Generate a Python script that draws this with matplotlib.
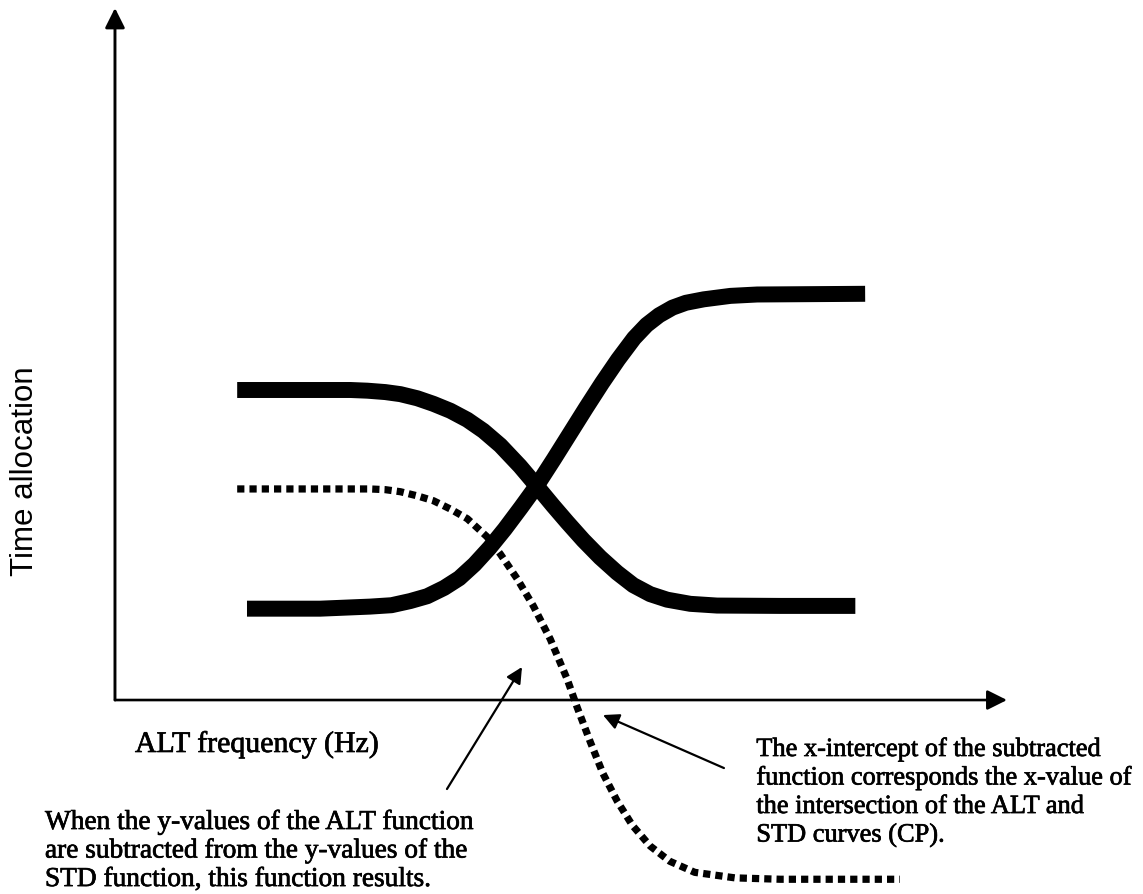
import matplotlib
matplotlib.use("Agg")
import matplotlib.pyplot as plt
import matplotlib.patheffects as pe

# ---- data (arbitrary units, origin at axes corner) ----
std_x = [13.7, 20.7, 26.4, 28.3, 30.3, 32.0, 33.9, 35.7, 37.6, 39.5, 41.3, 43.2,
         45.4, 47.3, 49.1, 50.7, 52.5, 54.4, 56.3, 58.1, 60.0, 61.9, 64.5, 67.5,
         74.6, 83.0]
std_y = [44.8, 44.8, 44.8, 44.7, 44.5, 44.2, 43.6, 42.8, 41.8, 40.5, 38.9, 36.8,
         33.8, 30.9, 28.1, 25.7, 23.1, 20.6, 18.4, 16.6, 15.3, 14.5, 13.9, 13.65,
         13.6, 13.6]

alt_x = [14.8, 23.0, 28.6, 31.0, 33.1, 35.0, 36.9, 38.6, 40.3, 42.0, 43.7, 45.5,
         47.3, 49.2, 51.0, 52.8, 54.6, 56.4, 58.2, 59.6, 61.0, 62.5, 64.0, 66.0,
         69.0, 72.0, 84.1]
alt_y = [13.2, 13.2, 13.5, 13.7, 14.3, 15.0, 16.2, 17.6, 19.6, 22.0, 24.7, 27.8,
         31.0, 34.8, 38.5, 42.2, 45.8, 49.2, 52.3, 54.2, 55.6, 56.7, 57.4, 57.9,
         58.4, 58.6, 58.7]

sub_x = [13.7, 20.7, 28.6, 30.3, 32.0, 33.9, 35.7, 37.6, 39.5, 41.7, 43.2, 45.1,
         46.9, 48.8, 50.7, 51.8, 53.3, 54.7, 56.3, 58.0, 60.0, 62.2, 65.0, 69.5,
         74.6, 88.0]
sub_y = [30.5, 30.5, 30.5, 30.4, 30.1, 29.5, 28.8, 27.6, 26.2, 23.6, 21.1, 17.5,
         13.6, 8.8, 3.0, -1.0, -6.1, -10.6, -14.6, -18.1, -21.1, -23.3, -24.9,
         -25.7, -25.9, -25.9]

y_label = "Time allocation"
x_label = "ALT frequency (Hz)"
note_left = ["When the y-values of the ALT function",
             "are subtracted from the y-values of the",
             "STD function, this function results."]
note_right = ["The x-intercept of the subtracted",
              "function corresponds the x-value of",
              "the intersection of the ALT and",
              "STD curves (CP)."]

# ---- figure ----
fig = plt.figure(figsize=(11.43, 8.95), dpi=100)
ax = fig.add_axes([0, 0, 1, 1])
ax.set_xlim(-12.89, 115.25)
ax.set_ylim(-28.03, 101.3)
ax.axis("off")

# axes with arrow heads
ax.annotate("", xy=(100, 0), xytext=(0, 0),
            arrowprops=dict(arrowstyle="-|>", lw=1.9, color="black",
                            mutation_scale=30, shrinkA=0, shrinkB=0))
ax.annotate("", xy=(0, 100), xytext=(0, 0),
            arrowprops=dict(arrowstyle="-|>", lw=2.1, color="black",
                            mutation_scale=30, shrinkA=0, shrinkB=0))

# curves
ax.plot(std_x, std_y, color="black", lw=11.5, solid_capstyle="butt",
        solid_joinstyle="round")
ax.plot(alt_x, alt_y, color="black", lw=11.5, solid_capstyle="butt",
        solid_joinstyle="round")
ax.plot(sub_x, sub_y, color="black", lw=5.2, linestyle=(0, (1.0, 0.7)),
        dash_capstyle="butt", clip_on=False)

# labels
thick = [pe.withStroke(linewidth=0.5, foreground="black")]
ax.text(-10.09, 33.24, y_label, rotation=90, ha="center", va="center",
        fontsize=22.5, family="Liberation Sans")
ax.text(2.24, -7.51, x_label, ha="left", va="baseline",
        fontsize=21.5, family="Liberation Serif", path_effects=thick)

for i, line in enumerate(note_left):
    ax.text(-7.85, -18.64 - i * 4.12, line, ha="left", va="baseline",
            fontsize=19.7, family="Liberation Serif", path_effects=thick)
for i, line in enumerate(note_right):
    ax.text(71.9, -8.09 - i * 4.12, line, ha="left", va="baseline",
            fontsize=19.0, family="Liberation Serif", path_effects=thick)

# pointer arrows
ax.annotate("", xy=(45.63, 4.77), xytext=(37.22, -12.86),
            arrowprops=dict(arrowstyle="-|>", lw=1.6, color="black",
                            mutation_scale=24, shrinkA=0, shrinkB=0))
ax.annotate("", xy=(54.71, -2.17), xytext=(68.27, -9.83),
            arrowprops=dict(arrowstyle="-|>", lw=1.6, color="black",
                            mutation_scale=24, shrinkA=0, shrinkB=0))

fig.savefig("out.png", dpi=100, facecolor="white")
